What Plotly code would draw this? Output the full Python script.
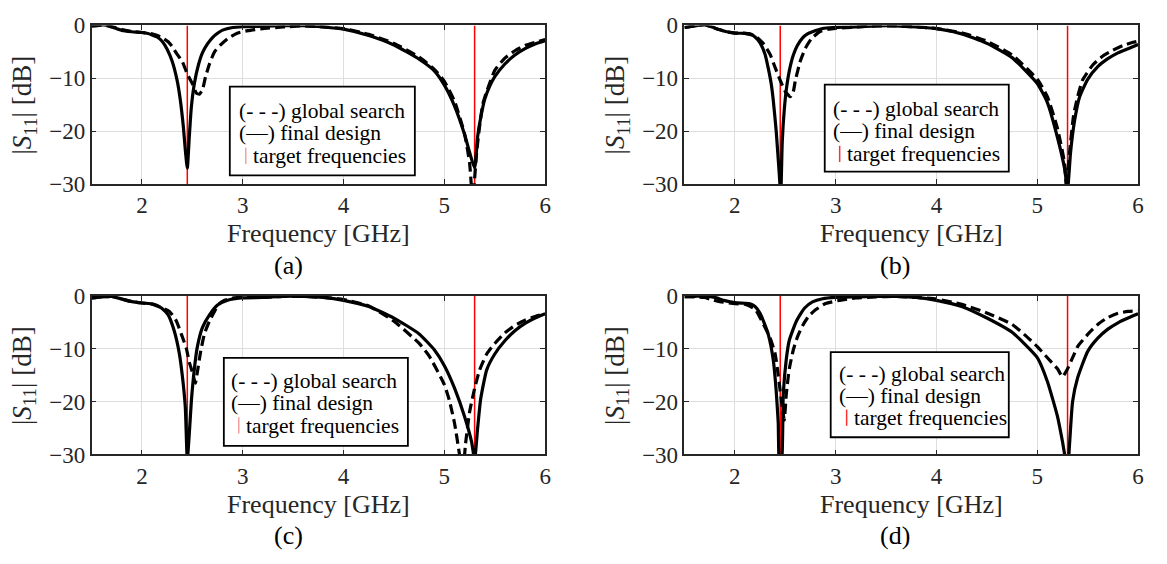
import plotly.graph_objects as go

# ---------------- data: |S11| in dB versus frequency in GHz ----------------
# (a)
f_a_final = [1.5, 1.55, 1.6, 1.65, 1.7, 1.8, 1.9, 2.0, 2.05, 2.1, 2.15, 2.2, 2.25, 2.3, 2.35,
             2.38, 2.41, 2.43, 2.45, 2.47, 2.49, 2.52, 2.56, 2.6, 2.65, 2.7, 2.75, 2.8, 2.9,
             3.0, 3.2, 3.4, 3.6, 3.8, 4.0, 4.25, 4.5, 4.75, 4.9, 5.0, 5.1, 5.2, 5.25, 5.3,
             5.33, 5.36, 5.4, 5.45, 5.5, 5.6, 5.7, 5.8, 5.9, 6.0]
s_a_final = [-0.1, -0.05, 0.1, 0.05, -0.3, -0.95, -1.2, -1.35, -1.5, -1.8, -2.2, -3.0, -4.5,
             -6.8, -10.5, -14, -19, -23.5, -27, -21, -15.5, -11, -7.5, -5.2, -3.5, -2.3, -1.5,
             -0.9, -0.4, -0.25, -0.15, -0.05, -0.05, -0.3, -0.7, -1.9, -3.7, -6.4, -8.6,
             -11.3, -15.2, -20.6, -24, -27, -21, -17.5, -14, -11.5, -9.7, -7.3, -5.6, -4.4,
             -3.5, -2.9]
f_a_global = [1.5, 1.6, 1.7, 1.8, 1.9, 2.0, 2.1, 2.2, 2.26, 2.3, 2.35, 2.4, 2.45, 2.5, 2.54,
              2.57, 2.6, 2.63, 2.67, 2.72, 2.78, 2.85, 2.95, 3.05, 3.2, 3.4, 3.6, 3.8, 4.0,
              4.25, 4.5, 4.75, 4.9, 5.0, 5.1, 5.2, 5.25, 5.28, 5.3, 5.32, 5.35, 5.38, 5.42,
              5.5, 5.6, 5.7, 5.8, 5.9, 6.0]
s_a_global = [-0.1, 0.05, -0.2, -0.8, -1.15, -1.35, -1.6, -2.3, -3.1, -4.0, -5.5, -6.8, -9.2,
              -11, -12.8, -13, -12.2, -9.8, -7.3, -5.0, -3.7, -2.5, -1.45, -1.0, -0.6, -0.3,
              -0.1, -0.3, -0.6, -1.7, -3.4, -6.0, -8.3, -10.6, -14.3, -20.5, -26, -33, -29,
              -24, -19, -15, -12.5, -8.5, -6.2, -4.8, -3.8, -3.2, -2.7]

# (b)
f_b_final = [1.5, 1.6, 1.7, 1.8, 1.9, 2.0, 2.1, 2.15, 2.2, 2.25, 2.3, 2.33, 2.36, 2.38, 2.41,
             2.44, 2.455, 2.47, 2.49, 2.51, 2.54, 2.58, 2.62, 2.67, 2.72, 2.77, 2.87, 2.97,
             3.2, 3.4, 3.6, 3.8, 4.0, 4.25, 4.5, 4.75, 5.0, 5.1, 5.2, 5.27, 5.3, 5.33, 5.37,
             5.42, 5.5, 5.6, 5.7, 5.8, 5.9, 6.0]
s_b_final = [-0.4, -0.1, 0.15, -0.5, -1.1, -1.45, -1.5, -1.6, -2.2, -3.3, -5.5, -8, -11, -14,
             -20, -28, -32, -22, -16, -12.2, -8.6, -5.6, -3.8, -2.4, -1.6, -1.2, -0.6, -0.4,
             -0.3, -0.1, -0.1, -0.3, -0.6, -1.6, -3.4, -6.1, -11, -14.6, -21.2, -27, -31,
             -24, -18, -13.5, -10.2, -7.8, -6.3, -5.2, -4.4, -3.6]
f_b_global = [1.5, 1.6, 1.7, 1.8, 1.9, 2.0, 2.1, 2.2, 2.28, 2.35, 2.4, 2.45, 2.5, 2.55, 2.58,
              2.6, 2.65, 2.7, 2.76, 2.84, 2.93, 3.0, 3.1, 3.2, 3.4, 3.6, 3.8, 4.0, 4.25, 4.5,
              4.75, 5.0, 5.1, 5.2, 5.27, 5.29, 5.32, 5.36, 5.4, 5.45, 5.55, 5.65, 5.75, 5.85,
              5.95, 6.0]
s_b_global = [-0.4, -0.1, 0.15, -0.5, -1.1, -1.45, -1.5, -2.0, -3.4, -5.5, -8, -10.4, -12.5,
              -13.5, -12.5, -10.4, -6.7, -4.3, -2.5, -1.2, -0.7, -0.55, -0.45, -0.3, -0.1,
              -0.1, -0.3, -0.6, -1.4, -3.0, -5.6, -10.2, -13.5, -19.5, -26, -31, -24, -17,
              -13.5, -10.3, -7.5, -5.8, -4.7, -3.8, -3.2, -3.0]

# (c)
f_c_final = [1.5, 1.6, 1.7, 1.8, 1.9, 2.0, 2.1, 2.15, 2.2, 2.26, 2.32, 2.37, 2.4, 2.43, 2.45,
             2.47, 2.49, 2.52, 2.55, 2.6, 2.67, 2.75, 2.85, 2.98, 3.2, 3.4, 3.6, 3.8, 4.0,
             4.25, 4.5, 4.75, 4.9, 5.0, 5.1, 5.2, 5.27, 5.3, 5.33, 5.36, 5.42, 5.5, 5.6, 5.7,
             5.8, 5.9, 6.0]
s_c_final = [-0.4, -0.2, -0.1, -0.6, -1.1, -1.35, -1.5, -1.8, -2.4, -3.6, -6.6, -10.8, -15,
             -21, -31, -26, -20, -13.8, -9.6, -6, -3.6, -1.75, -0.85, -0.4, -0.3, -0.1, -0.1,
             -0.3, -0.85, -2.0, -4.2, -7.2, -10.2, -13.2, -17.4, -22.8, -27.6, -31, -25,
             -19.5, -14, -11, -8.5, -6.6, -5.2, -4.2, -3.4]
f_c_global = [1.5, 1.6, 1.7, 1.8, 1.9, 2.0, 2.1, 2.2, 2.27, 2.34, 2.39, 2.44, 2.47, 2.5, 2.53,
              2.55, 2.58, 2.62, 2.67, 2.72, 2.77, 2.82, 2.91, 3.0, 3.2, 3.4, 3.6, 3.8, 4.0,
              4.25, 4.5, 4.75, 4.85, 5.0, 5.05, 5.1, 5.15, 5.18, 5.21, 5.25, 5.3, 5.35, 5.42,
              5.5, 5.6, 5.7, 5.8, 5.9, 6.0]
s_c_global = [-0.4, -0.2, -0.1, -0.6, -1.1, -1.35, -1.6, -2.3, -2.9, -4.7, -7.2, -9.9, -12.6,
              -14.4, -16.5, -14.4, -10.8, -7.2, -4.75, -2.95, -1.45, -0.85, -0.4, -0.3, -0.3,
              -0.1, -0.1, -0.3, -0.7, -1.9, -4.8, -9, -11.4, -16.8, -19.8, -24, -30, -34, -28,
              -22, -17.5, -14, -11, -9, -7, -5.6, -4.6, -3.9, -3.4]

# (d)
f_d_final = [1.5, 1.6, 1.7, 1.8, 1.9, 2.0, 2.1, 2.15, 2.2, 2.25, 2.3, 2.33, 2.38, 2.41, 2.43,
             2.445, 2.46, 2.48, 2.51, 2.54, 2.61, 2.69, 2.77, 2.87, 3.0, 3.2, 3.4, 3.6, 3.8,
             4.0, 4.25, 4.5, 4.75, 5.0, 5.1, 5.2, 5.25, 5.3, 5.32, 5.35, 5.4, 5.5, 5.6, 5.7,
             5.8, 5.9, 6.0]
s_d_final = [-0.2, -0.1, 0, -0.3, -0.9, -1.3, -1.4, -1.5, -2.0, -3.3, -5.6, -7.2, -12, -18,
             -24, -33, -33, -18.6, -12, -8.4, -4.8, -2.35, -1.15, -0.55, -0.3, -0.2, -0.1,
             -0.1, -0.3, -0.85, -2.0, -4.2, -6.9, -11.7, -16.2, -22.8, -27.6, -33, -28, -20,
             -15.5, -10.5, -8, -6.3, -5.1, -4.2, -3.4]
f_d_global = [1.5, 1.6, 1.7, 1.75, 1.85, 2.0, 2.1, 2.2, 2.3, 2.35, 2.4, 2.43, 2.45, 2.47, 2.49,
              2.51, 2.54, 2.58, 2.62, 2.67, 2.73, 2.8, 2.9, 3.04, 3.2, 3.4, 3.6, 3.8, 4.0,
              4.25, 4.5, 4.75, 4.9, 5.0, 5.1, 5.2, 5.25, 5.3, 5.35, 5.4, 5.5, 5.6, 5.7, 5.8,
              5.9, 6.0]
s_d_global = [-0.1, -0.2, -0.3, -0.6, -1.1, -1.5, -1.6, -2.5, -6, -8, -11, -15, -18, -21,
              -23.5, -18.6, -13.8, -10.2, -7.8, -5.7, -3.9, -2.65, -1.45, -0.85, -0.4, -0.2,
              -0.1, -0.3, -0.6, -1.6, -3.25, -5.4, -7.8, -9.6, -11.7, -13.8, -15.3, -13.8,
              -11.7, -9.6, -7.3, -5.4, -4.1, -3.3, -2.95, -2.85]

target_freqs = [2.45, 5.3]
panel_labels = ["(a)", "(b)", "(c)", "(d)"]
x_ticks = [2, 3, 4, 5, 6]
y_ticks = [-30, -20, -10, 0]
x_title = "Frequency [GHz]"
y_title = "|<i>S</i><sub>11</sub>| [dB]"
legend_lines = ["(- - -) global search", "(\u2014) final design", "target frequencies"]

# ---------------- layout helpers (pixel -> paper) ----------------
W, H = 1167, 564
FONT = "Liberation Serif"
INK = "#262626"
LEGEND_SIZE = 21.5


def px(x):
    return x / W


def py(y):
    return 1 - y / H


# plot-area boxes in pixels: (left, right, top, bottom)
boxes = [(92, 548, 14, 180), (688, 1144, 14, 180), (92, 548, 297, 463), (688, 1144, 297, 463)]
# legend boxes: (left, top, right, bottom), row centres, text x, bar x
legends = [
    dict(box=(231, 78, 417, 171), rows=(103.5, 127, 151), tx=238, bar=247, bar_color="#f3a0a0"),
    dict(box=(829, 76, 1014, 167), rows=(101, 125, 149), tx=835, bar=844, bar_color="#ff3030"),
    dict(box=(225, 362, 410, 454), rows=(386, 409, 433), tx=230, bar=240, bar_color="#f3a0a0"),
    dict(box=(835, 356, 1014, 445), rows=(379, 402, 425), tx=841, bar=851, bar_color="#ff3030"),
]
label_pos = [(290, 265), (900, 265), (290, 548), (900, 548)]

series = [
    (f_a_final, s_a_final, f_a_global, s_a_global),
    (f_b_final, s_b_final, f_b_global, s_b_global),
    (f_c_final, s_c_final, f_c_global, s_c_global),
    (f_d_final, s_d_final, f_d_global, s_d_global),
]

fig = go.Figure()
shapes = []
annotations = []

for i, ((fx_fin, v_fin, fx_glb, v_glb), (l, r, t, b)) in enumerate(zip(series, boxes)):
    n = "" if i == 0 else str(i + 1)
    xa, ya = "x" + n, "y" + n

    # target frequency markers (drawn under the curves)
    for ft in target_freqs:
        fig.add_trace(go.Scatter(x=[ft, ft], y=[y_ticks[-1], y_ticks[0]], mode="lines",
                                 line=dict(color="#ff0000", width=1.5),
                                 xaxis=xa, yaxis=ya, showlegend=False, hoverinfo="skip"))
    fig.add_trace(go.Scatter(x=fx_glb, y=v_glb, mode="lines",
                             line=dict(color="black", width=3.2, dash="10px,5px",
                                       shape="spline", smoothing=0.5),
                             xaxis=xa, yaxis=ya, showlegend=False))
    fig.add_trace(go.Scatter(x=fx_fin, y=v_fin, mode="lines",
                             line=dict(color="black", width=3.2, shape="spline", smoothing=0.5),
                             xaxis=xa, yaxis=ya, showlegend=False))

    axis_common = dict(showgrid=True, gridcolor="#dedede", gridwidth=1,
                       showline=True, linecolor=INK, linewidth=1.5, mirror="ticks",
                       ticks="inside", ticklen=5, tickwidth=1, tickcolor=INK,
                       tickfont=dict(family=FONT, size=23, color=INK), zeroline=False)
    fig.layout["xaxis" + n] = dict(domain=[px(l), px(r)], range=[1.5, 6], tickvals=x_ticks,
                                   anchor=ya, **axis_common)
    fig.layout["yaxis" + n] = dict(domain=[py(b), py(t)], range=[-30, 0], tickvals=y_ticks,
                                   anchor=xa, **axis_common)

    # axis titles and panel label
    cx = (l + r) / 2
    annotations.append(dict(text=x_title, x=px(cx), y=py(b + 52), xref="paper", yref="paper",
                            showarrow=False, xanchor="center", yanchor="middle",
                            font=dict(family=FONT, size=26, color=INK)))
    annotations.append(dict(text=y_title, x=px(l - 68), y=py((t + b) / 2), xref="paper",
                            yref="paper", showarrow=False, textangle=-90,
                            xanchor="center", yanchor="middle",
                            font=dict(family=FONT, size=27, color=INK)))
    lx, ly = label_pos[i]
    annotations.append(dict(text=panel_labels[i], x=px(lx), y=py(ly), xref="paper",
                            yref="paper", showarrow=False, xanchor="center", yanchor="middle",
                            font=dict(family=FONT, size=26, color="black")))

    # legend box
    lg = legends[i]
    x0, y0, x1, y1 = lg["box"]
    shapes.append(dict(type="rect", xref="paper", yref="paper", x0=px(x0), x1=px(x1),
                       y0=py(y1), y1=py(y0), line=dict(color="black", width=1.8),
                       fillcolor="white", layer="above"))
    r0, r1, r2 = lg["rows"]
    for text, row, tx in ((legend_lines[0], r0, lg["tx"]), (legend_lines[1], r1, lg["tx"]),
                          (legend_lines[2], r2, lg["bar"] + 5)):
        annotations.append(dict(text=text, x=px(tx), y=py(row), xref="paper", yref="paper",
                                showarrow=False, xanchor="left", yanchor="middle",
                                font=dict(family=FONT, size=LEGEND_SIZE, color="black")))
    shapes.append(dict(type="line", xref="paper", yref="paper", x0=px(lg["bar"]),
                       x1=px(lg["bar"]), y0=py(r2 + 8), y1=py(r2 - 9),
                       line=dict(color=lg["bar_color"], width=1.5), layer="above"))

fig.update_layout(width=W, height=H, margin=dict(l=0, r=0, t=0, b=0),
                  paper_bgcolor="white", plot_bgcolor="white",
                  shapes=shapes, annotations=annotations, showlegend=False)

fig.write_html("out.html")
